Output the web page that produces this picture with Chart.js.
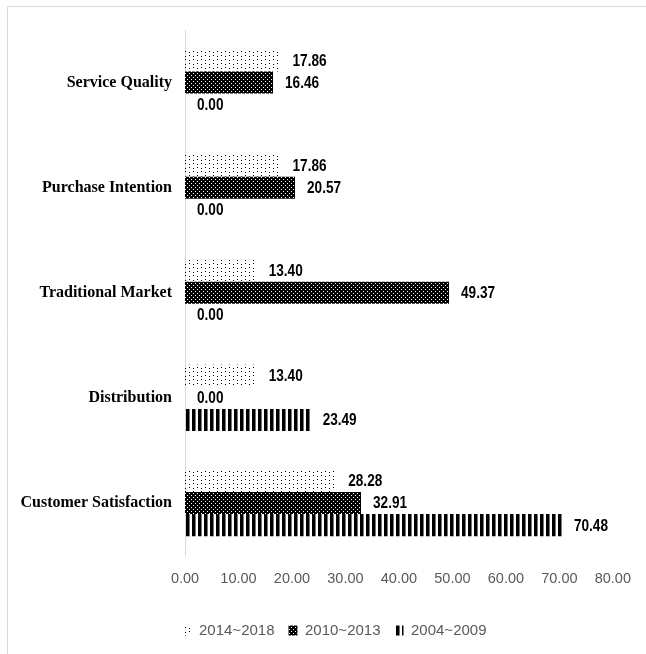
<!DOCTYPE html>
<html>
<head>
<meta charset="utf-8">
<script src="https://cdn.jsdelivr.net/npm/chart.js@4.4.0/dist/chart.umd.min.js"></script>
<style>
  html, body { margin: 0; padding: 0; background: #fff; }
  #wrap { width: 646px; height: 654px; position: relative; }
</style>
</head>
<body>
<div id="wrap"><canvas id="topicChart"></canvas></div>
<script>
// categories, top to bottom
const categories = ['Service Quality', 'Purchase Intention', 'Traditional Market', 'Distribution', 'Customer Satisfaction'];
const seriesNames = ['2014~2018', '2010~2013', '2004~2009'];
const values2014 = [17.86, 17.86, 13.40, 13.40, 28.28];
const values2010 = [16.46, 20.57, 49.37, 0.00, 32.91];
const values2004 = [0.00, 0.00, 0.00, 23.49, 70.48];
const xTicks = [0, 10, 20, 30, 40, 50, 60, 70, 80];

// little tiles for the Excel-like fill patterns
function makePattern(w, h, paint) {
    const c = document.createElement('canvas');
    c.width = w;
    c.height = h;
    const g = c.getContext('2d');
    paint(g);
    return g.createPattern(c, 'repeat');
}

const dotted = makePattern(8, 8, g => {
    g.fillStyle = '#000';
    g.fillRect(1, 0, 1, 1);
    g.fillRect(1, 3, 1, 1);
    g.fillRect(5, 4, 1, 1);
    g.fillRect(5, 7, 1, 1);
});

const checker = makePattern(4, 4, g => {
    g.fillStyle = '#000';
    g.fillRect(0, 0, 4, 4);
    g.fillStyle = '#fff';
    g.fillRect(1, 1, 1, 1);
    g.fillRect(3, 3, 1, 1);
});

const stripes = makePattern(6, 2, g => {
    g.fillStyle = '#000';
    g.fillRect(0, 0, 3, 2);
    g.fillStyle = '#777';
    g.fillRect(3, 0, 1, 2);
});

// frame of the chart box (only top / left are inside the picture)
const framePlugin = {
    id: 'frame',
    beforeDraw(chart) {
        const { ctx } = chart;
        ctx.save();
        ctx.strokeStyle = '#d9d9d9';
        ctx.lineWidth = 1;
        ctx.beginPath();
        ctx.moveTo(7.5, chart.height);
        ctx.lineTo(7.5, 6.5);
        ctx.lineTo(chart.width, 6.5);
        ctx.stroke();
        ctx.restore();
    }
};

// the legend in the original sits a little right of centre
const legendShift = {
    id: 'legendShift',
    afterLayout(chart) {
        chart.legend.left += 23;
        chart.legend.right += 23;
    }
};

// value labels to the right of each bar (squeezed a bit, the original font is narrow)
const valueLabels = {
    id: 'valueLabels',
    afterDatasetsDraw(chart) {
        const { ctx } = chart;
        const squeeze = 0.85;
        ctx.save();
        ctx.fillStyle = '#000';
        ctx.font = 'bold 16px "Liberation Sans", sans-serif';
        ctx.textAlign = 'left';
        ctx.textBaseline = 'middle';
        chart.data.datasets.forEach((ds, i) => {
            const meta = chart.getDatasetMeta(i);
            meta.data.forEach((bar, j) => {
                ctx.save();
                ctx.translate(bar.x + 12, bar.y + 1);
                ctx.scale(squeeze, 1);
                ctx.fillText(ds.data[j].toFixed(2), 0, 0);
                ctx.restore();
            });
        });
        ctx.restore();
    }
};

new Chart(document.getElementById('topicChart'), {
    type: 'bar',
    data: {
        labels: categories,
        datasets: [
            { label: seriesNames[0], data: values2014, backgroundColor: dotted, borderWidth: 0 },
            { label: seriesNames[1], data: values2010, backgroundColor: checker, borderWidth: 0 },
            { label: seriesNames[2], data: values2004, backgroundColor: stripes, borderWidth: 0 }
        ]
    },
    options: {
        indexAxis: 'y',
        responsive: true,
        maintainAspectRatio: false,
        animation: false,
        categoryPercentage: 0.63,
        barPercentage: 1.0,
        layout: { padding: { top: 30, bottom: 6, left: 8, right: 31 } },
        scales: {
            x: {
                min: 0,
                max: 80,
                afterBuildTicks: scale => { scale.ticks = xTicks.map(v => ({ value: v })); },
                afterFit: scale => { scale.height += 6; },
                ticks: {
                    color: '#595959',
                    font: { family: '"Liberation Sans", sans-serif', size: 14.5 },
                    padding: 15,
                    callback: v => Number(v).toFixed(2)
                },
                grid: { display: false, drawTicks: false },
                border: { display: false }
            },
            y: {
                afterFit: scale => { scale.width = 177; },
                ticks: {
                    color: '#000',
                    font: { family: '"Liberation Serif", serif', size: 16, weight: 'bold' },
                    padding: 13
                },
                grid: { display: false, drawTicks: false },
                border: { display: true, color: '#d9d9d9', width: 1 }
            }
        },
        plugins: {
            legend: {
                position: 'bottom',
                labels: {
                    color: '#595959',
                    font: { family: '"Liberation Sans", sans-serif', size: 15 },
                    boxWidth: 9,
                    boxHeight: 10,
                    padding: 14
                }
            },
            tooltip: { enabled: false }
        }
    },
    plugins: [framePlugin, legendShift, valueLabels]
});
</script>
</body>
</html>
